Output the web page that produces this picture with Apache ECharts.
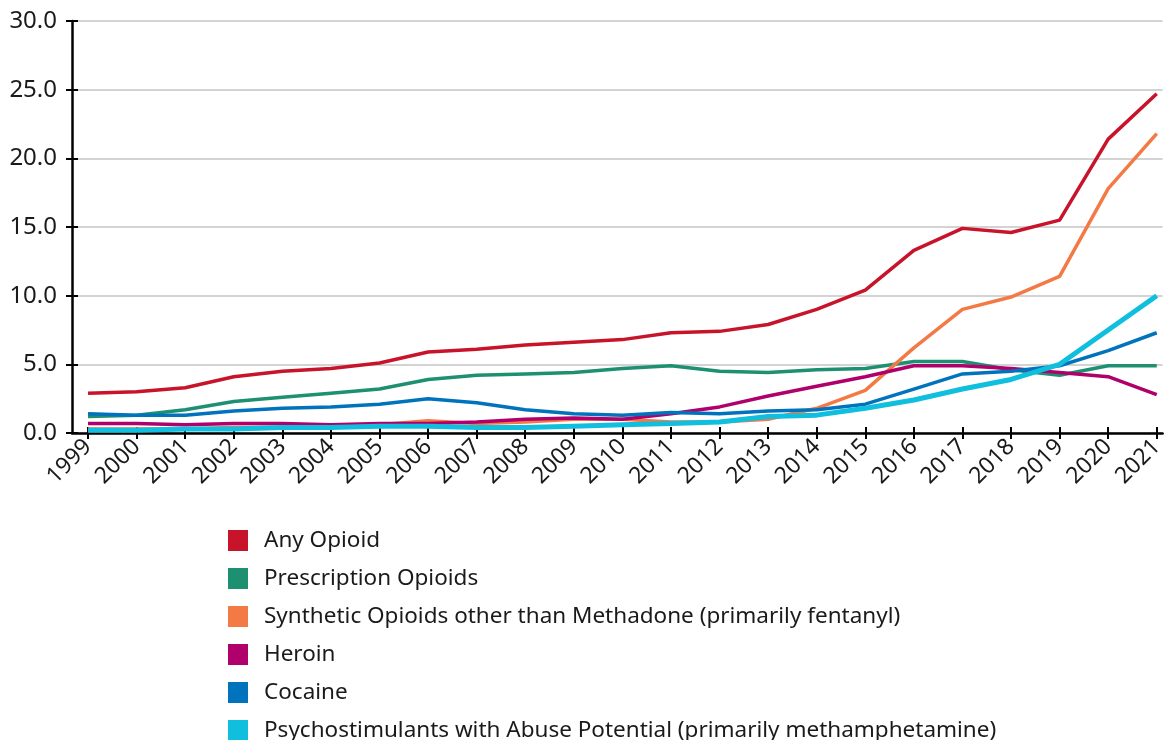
<!DOCTYPE html>
<html>
<head>
<meta charset="utf-8">
<script src="https://cdn.jsdelivr.net/npm/echarts@6/dist/echarts.min.js"></script>
<style>
  html, body { margin: 0; padding: 0; background: #fff; }
  #chart { width: 1167px; height: 740px; }
</style>
</head>
<body>
<div id="chart"></div>
<script>
// 年份与各系列(每 10 万人口死亡率)
const years = [1999, 2000, 2001, 2002, 2003, 2004, 2005, 2006, 2007, 2008, 2009, 2010,
  2011, 2012, 2013, 2014, 2015, 2016, 2017, 2018, 2019, 2020, 2021]
const anyOpioid = [2.9, 3.0, 3.3, 4.1, 4.5, 4.7, 5.1, 5.9, 6.1, 6.4, 6.6, 6.8,
  7.3, 7.4, 7.9, 9.0, 10.4, 13.3, 14.9, 14.6, 15.5, 21.4, 24.7]
const prescription = [1.2, 1.3, 1.7, 2.3, 2.6, 2.9, 3.2, 3.9, 4.2, 4.3, 4.4, 4.7,
  4.9, 4.5, 4.4, 4.6, 4.7, 5.2, 5.2, 4.6, 4.2, 4.9, 4.9]
const synthetic = [0.3, 0.3, 0.3, 0.4, 0.4, 0.6, 0.6, 0.9, 0.7, 0.8, 1.0, 1.0,
  0.8, 0.8, 1.0, 1.8, 3.1, 6.2, 9.0, 9.9, 11.4, 17.8, 21.8]
const heroin = [0.7, 0.7, 0.6, 0.7, 0.7, 0.6, 0.7, 0.7, 0.8, 1.0, 1.1, 1.0,
  1.4, 1.9, 2.7, 3.4, 4.1, 4.9, 4.9, 4.7, 4.4, 4.1, 2.8]
const cocaine = [1.4, 1.3, 1.3, 1.6, 1.8, 1.9, 2.1, 2.5, 2.2, 1.7, 1.4, 1.3,
  1.5, 1.4, 1.6, 1.7, 2.1, 3.2, 4.3, 4.5, 4.9, 6.0, 7.3]
const psychostim = [0.2, 0.2, 0.3, 0.3, 0.4, 0.4, 0.5, 0.5, 0.4, 0.4, 0.5, 0.6,
  0.7, 0.8, 1.2, 1.3, 1.8, 2.4, 3.2, 3.9, 5.0, 7.5, 10.0]

const INK = '#1a1a1a'
const FONT = 'Noto Sans'

const SERIES = [
  { name: 'Any Opioid', data: anyOpioid, color: '#C8142B', width: 3.5 },
  { name: 'Prescription Opioids', data: prescription, color: '#1E9072', width: 3.5 },
  { name: 'Synthetic Opioids other than Methadone (primarily fentanyl)', data: synthetic, color: '#F47A45', width: 3.5 },
  { name: 'Heroin', data: heroin, color: '#B0006C', width: 3.5 },
  { name: 'Cocaine', data: cocaine, color: '#0073BC', width: 3.5 },
  { name: 'Psychostimulants with Abuse Potential (primarily methamphetamine)', data: psychostim, color: '#10BEDE', width: 5 },
]

/* x 轴用数值轴:左侧留 1/3 年空隙,刻度/标签用 customValues 落在整年 */
const xBase = {
  type: 'value', min: 1998.67, max: 2021.12, position: 'bottom',
  splitLine: { show: false },
}
const yBase = { type: 'value', min: 0, max: 30, interval: 5, position: 'left' }
const tickLine = { color: '#000', width: 2 }

const chart = echarts.init(document.getElementById('chart'))
chart.setOption({
  animation: false,
  textStyle: { fontFamily: FONT },
  grid: { left: 72, right: 0, top: 21, bottom: 307 },
  legend: {
    orient: 'vertical', left: 223, top: 524, height: 260,
    icon: 'rect', itemWidth: 20, itemHeight: 21, itemGap: 15,
    textStyle: { color: INK, fontSize: 22.5, fontFamily: FONT, padding: [0, 0, 0, 11] },
    data: SERIES.map(s => s.name),
  },
  // 两根 x 轴叠放:一根朝外刻度 + 标签,一根朝内刻度,形成穿轴刻度
  xAxis: [
    { ...xBase,
      axisLine: { onZero: false, lineStyle: { color: '#000', width: 2.5 } },
      axisTick: { show: true, length: 6, customValues: years, lineStyle: tickLine },
      axisLabel: { customValues: years, rotate: 45, margin: 10, color: INK, fontSize: 23,
        formatter: v => String(v) } },
    { ...xBase,
      axisLine: { show: false },
      axisTick: { show: true, inside: true, length: 6, customValues: years, lineStyle: tickLine },
      axisLabel: { show: false } },
  ],
  yAxis: [
    { ...yBase,
      axisLine: { show: true, lineStyle: { color: '#000', width: 2.5 } },
      axisTick: { show: true, length: 6, lineStyle: tickLine },
      axisLabel: { margin: 15, color: INK, fontSize: 24, formatter: v => v.toFixed(1) },
      splitLine: { lineStyle: { color: '#c4c4c4', width: 1.5 } } },
    { ...yBase,
      axisLine: { show: false },
      axisTick: { show: true, inside: true, length: 6, lineStyle: tickLine },
      axisLabel: { show: false }, splitLine: { show: false } },
  ],
  series: SERIES.map(s => ({
    name: s.name, type: 'line', xAxisIndex: 0, yAxisIndex: 0,
    data: years.map((y, i) => [y, s.data[i]]),
    symbol: 'none', smooth: false,
    lineStyle: { color: s.color, width: s.width },
    itemStyle: { color: s.color },
  })),
})
</script>
</body>
</html>
